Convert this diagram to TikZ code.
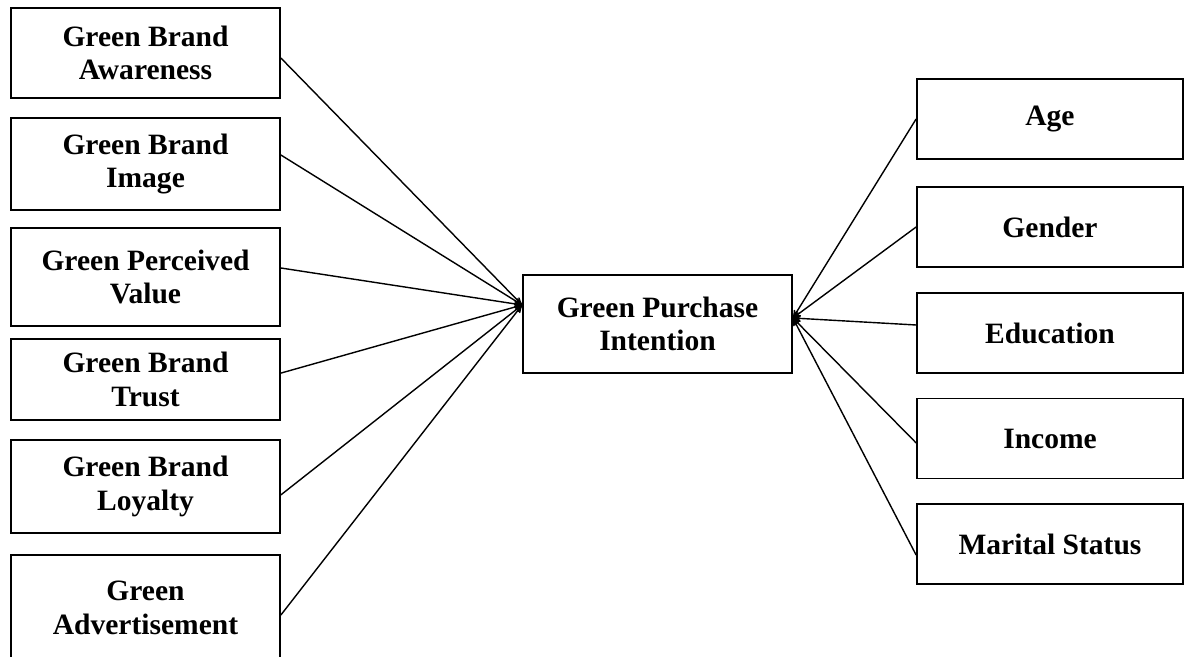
\documentclass[tikz,border=0pt]{standalone}
\usepackage{fontspec}
\setmainfont{Liberation Serif}
\usetikzlibrary{arrows}

\begin{document}
\begin{tikzpicture}[x=0.025cm,y=-0.025cm]
\tikzstyle{every node}=[inner sep=2pt, align=center, font=\bfseries\fontsize{21}{24}\selectfont]
\tikzstyle{box}=[draw, line width=1.2pt, minimum width=6.725cm]
\tikzstyle{link}=[->, >=stealth', line width=1pt]
\clip (0,0) rectangle (1184,657);
\draw (145.5,53) node (a1) [box,minimum height=2.25cm] {Green Brand\\Awareness};
\draw (145.5,164) node (a2) [box,minimum height=2.3cm] {Green Brand\\Image};
\draw (145.5,277) node (a3) [box,minimum height=2.45cm] {Green Perceived\\Value};
\draw (145.5,379.5) node (a4) [box,minimum height=2.025cm] {Green Brand\\Trust};
\draw (145.5,486.5) node (a5) [box,minimum height=2.325cm] {Green Brand\\Loyalty};
\draw (145.5,608) node (a6) [box,minimum height=2.65cm] {Green\\Advertisement};
\draw (657.5,324) node (c) [box,minimum height=2.45cm] {Green Purchase\\Intention};
\draw (1050,119) node (b1) [box,minimum width=6.65cm,minimum height=2cm] {Age};
\draw (1050,227) node (b2) [box,minimum width=6.65cm,minimum height=2cm] {Gender};
\draw (1050,333) node (b3) [box,minimum width=6.65cm,minimum height=2cm] {Education};
\draw (1050,438.5) node (b4) [box,minimum width=6.65cm,minimum height=2cm] {Income};
\draw (1050,544) node (b5) [box,minimum width=6.65cm,minimum height=2cm] {Marital Status};
\coordinate (inl) at ([yshift=0.475cm]c.west);
\coordinate (inr) at ([yshift=0.15cm]c.east);
\draw[link] ([yshift=-0.125cm]a1.east) -- (inl);
\draw[link] ([yshift=0.225cm]a2.east) -- (inl);
\draw[link] ([yshift=0.225cm]a3.east) -- (inl);
\draw[link] ([yshift=0.16cm]a4.east) -- (inl);
\draw[link] ([yshift=-0.21cm]a5.east) -- (inl);
\draw[link] ([yshift=-0.175cm]a6.east) -- (inl);
\draw[link] (b1.west) -- (inr);
\draw[link] (b2.west) -- (inr);
\draw[link] ([yshift=0.2cm]b3.west) -- (inr);
\draw[link] ([yshift=-0.11cm]b4.west) -- (inr);
\draw[link] ([yshift=-0.275cm]b5.west) -- (inr);
\end{tikzpicture}
\end{document}
